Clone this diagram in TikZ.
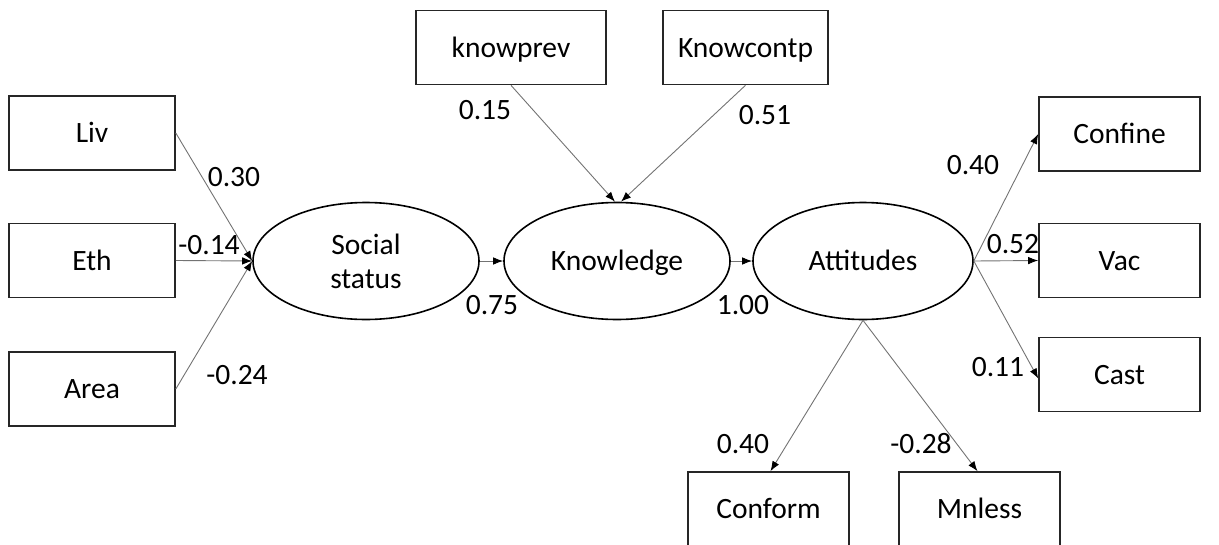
\documentclass[tikz,border=0pt]{standalone}
\usepackage{fontspec}
\setmainfont{Carlito}
\usetikzlibrary{shapes.geometric,arrows.meta}
\begin{document}
\begin{tikzpicture}[x=1pt,y=-1pt,
  font=\fontsize{29.5}{34}\selectfont,
  obs/.style={draw=black!85,line width=1.6pt,rectangle,minimum width=166pt,minimum height=74pt,inner sep=0pt,text height=19pt,text depth=0pt},
  lat/.style={draw=black,line width=1.6pt,ellipse,minimum width=226pt,minimum height=117pt,inner sep=0pt,align=center},
  latone/.style={lat,text height=19pt,text depth=0pt},
  path/.style={draw=black!55,line width=0.9pt,-{Latex[length=10pt,width=7.5pt,color=black]}},
  coef/.style={inner sep=0pt}]
\useasboundingbox (0,0) rectangle (1219,544);
% observed variables
\node[obs] (liv) at (92,133) {Liv};
\node[obs] (eth) at (92,260.5) {Eth};
\node[obs] (area) at (92,389) {Area};
\node[obs,minimum width=190pt] (kp) at (511,47.5) {knowprev};
\node[obs,minimum width=165pt] (kc) at (745.5,47.5) {Knowcontp};
\node[obs,minimum width=161pt] (confine) at (1119.5,134) {Confine};
\node[obs,minimum width=161pt] (vac) at (1119.5,260.5) {Vac};
\node[obs,minimum width=161pt] (cast) at (1119.5,374.5) {Cast};
\node[obs,minimum width=161pt] (conform) at (768.5,509) {Conform};
\node[obs,minimum width=161pt] (mnless) at (979.5,509) {Mnless};
% latent variables
\node[lat] (social) at (366,261) {Social\\status};
\node[latone] (know) at (617,261) {Knowledge};
\node[latone,minimum width=220pt] (att) at (863,261) {Attitudes};
% paths
\draw[path] (liv.east) -- (social.west);
\draw[path] (eth.east) -- (social.west);
\draw[path] (area.east) -- (social.west);
\draw[path] (social.east) -- (know.west);
\draw[path] (know.east) -- (att.west);
\draw[path] (kp.south) -- ([xshift=-2pt]know.north);
\draw[path] (kc.south) -- ([xshift=4pt]know.north);
\draw[path] (att.east) -- (confine.west);
\draw[path] (att.east) -- (vac.west);
\draw[path] (att.east) -- ([yshift=-4pt]cast.west);
\draw[path] (att.south) -- ([xshift=2pt]conform.north);
\draw[path] (att.south) -- ([xshift=-2pt]mnless.north);
% coefficients
\node[coef] (c1) at (234,177) {0.30};
\node[coef] (c2) at (209,245) {-0.14};
\node[coef] (c3) at (237,375) {-0.24};
\node[coef] (c4) at (485,110) {0.15};
\node[coef] (c5) at (765,115) {0.51};
\node[coef] (c6) at (492,305) {0.75};
\node[coef] (c7) at (743,305) {1.00};
\node[coef] (c8) at (973,165) {0.40};
\node[coef] (c9) at (1013,244) {0.52};
\node[coef] (c10) at (998,367) {0.11};
\node[coef] (c11) at (743,444) {0.40};
\node[coef] (c12) at (921,444) {-0.28};
\end{tikzpicture}
\end{document}
